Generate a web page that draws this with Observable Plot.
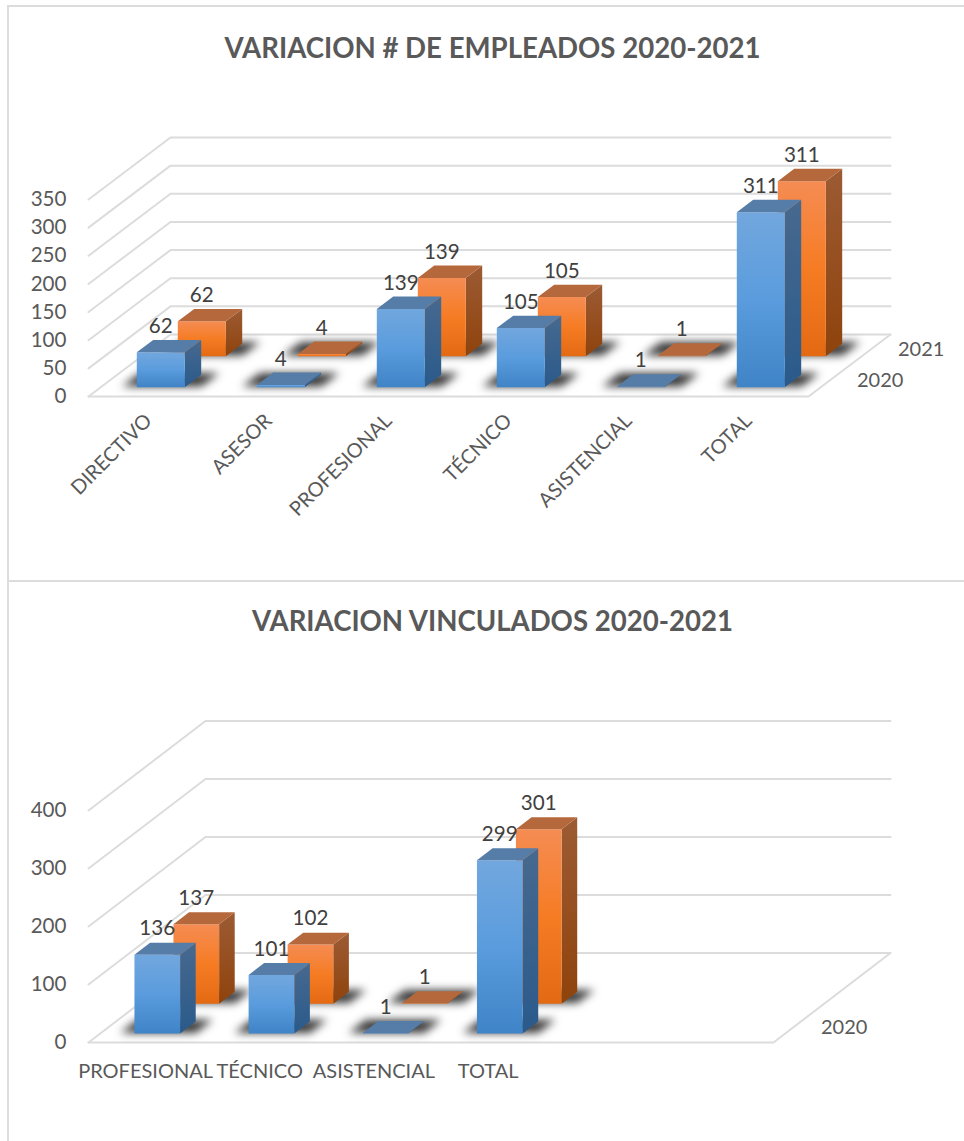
<!DOCTYPE html>
<html>
<head>
<meta charset="utf-8">
<script src="https://cdn.jsdelivr.net/npm/d3@7"></script>
<script src="https://cdn.jsdelivr.net/npm/@observablehq/plot@0.6"></script>
<style>
  html, body { margin: 0; padding: 0; background: #fff; }
  body { position: relative; width: 964px; height: 1141px; overflow: hidden; font-family: Lato, sans-serif; }
  #frame { position: absolute; left: 7px; top: 5px; right: 0; bottom: 0; border-left: 2px solid #dcdcdc; border-top: 2px solid #dcdcdc; }
  #divider { position: absolute; left: 7px; right: 0; top: 580px; height: 2px; background: #dcdcdc; }
  .title { position: absolute; left: 0; width: 985px; text-align: center; font-weight: 700; color: #595959; white-space: nowrap; }
  #title1 { top: 0; height: 96px; line-height: 96px; font-size: 27.6px; }
  #title2 { top: 582px; height: 78px; line-height: 78px; font-size: 27.6px; }
  #chart1, #chart2 { position: absolute; left: 0; }
  #chart1 { top: 95px; }
  #chart2 { top: 660px; }
  svg { display: block; overflow: visible; }
</style>
</head>
<body>
<svg width="0" height="0" style="position:absolute">
  <defs>
    <linearGradient id="frontBlue" x1="0" y1="0" x2="0" y2="1">
      <stop offset="0" stop-color="#72a7de"/><stop offset="0.5" stop-color="#5a9cdd"/><stop offset="1" stop-color="#3f84c7"/>
    </linearGradient>
    <linearGradient id="frontOrange" x1="0" y1="0" x2="0" y2="1">
      <stop offset="0" stop-color="#f58c53"/><stop offset="0.5" stop-color="#f67c24"/><stop offset="1" stop-color="#e36a13"/>
    </linearGradient>
    <linearGradient id="sideBlue" x1="0" y1="0" x2="0" y2="1">
      <stop offset="0" stop-color="#47698f"/><stop offset="1" stop-color="#2a5a8b"/>
    </linearGradient>
    <linearGradient id="sideOrange" x1="0" y1="0" x2="0" y2="1">
      <stop offset="0" stop-color="#9c5b34"/><stop offset="1" stop-color="#8f430c"/>
    </linearGradient>
  </defs>
</svg>
<div id="frame"></div>
<div id="divider"></div>
<div class="title" id="title1">VARIACION # DE EMPLEADOS 2020-2021</div>
<div id="chart1"></div>
<div class="title" id="title2">VARIACION VINCULADOS 2020-2021</div>
<div id="chart2"></div>
<script>
const categories1 = ["DIRECTIVO", "ASESOR", "PROFESIONAL", "TÉCNICO", "ASISTENCIAL", "TOTAL"];
const empleados2020 = [62, 4, 139, 105, 1, 311];
const empleados2021 = [62, 4, 139, 105, 1, 311];
const ticks1 = [0, 50, 100, 150, 200, 250, 300, 350];
const depthLabels1 = ["2020", "2021"];

const categories2 = ["PROFESIONAL", "TÉCNICO", "ASISTENCIAL", "TOTAL", "", ""];
const vinculados2020 = [136, 101, 1, 299];
const vinculados2021 = [137, 102, 1, 301];
const ticks2 = [0, 100, 200, 300, 400];
const depthLabels2 = ["2020"];

const blueSkin = {front: "url(#frontBlue)", side: "url(#sideBlue)", top: "#557da8"};
const orangeSkin = {front: "url(#frontOrange)", side: "url(#sideOrange)", top: "#b5683c"};

function chart3d({cats, series, ticks, yMax, depthSlots, depthLabels, kx, ky, rotate, height, marginTop, marginBottom, marginRight, labelDy, tickPadding}) {
  const nCat = cats.length;
  // oblique projection of (category position, depth position, value) into x/y scale units
  const P = (u, v, h) => ({x: u + v * kx, y: h + v * ky});
  const poly = (id, pts) => pts.map(([u, v, h]) => ({id, ...P(u, v, h)}));

  const grid = [];
  ticks.forEach((t) => grid.push(...poly("t" + t, [[0, 0, t], [0, depthSlots, t], [nCat, depthSlots, t]])));
  grid.push(...poly("floor", [[0, 0, 0], [nCat, 0, 0], [nCat, depthSlots, 0]]));

  const line = (rows, fill, extra = {}) => Plot.line(rows, {x: "x", y: "y", z: "id", fill, stroke: "none", ...extra});

  const barMarks = [];
  const labels = [];
  for (let s = series.length - 1; s >= 0; s--) {
    const {values, skin} = series[s];
    const v0 = s + 0.3, v1 = s + 0.7;
    const shadow = [], front = [], side = [], top = [];
    values.forEach((h, i) => {
      const u0 = i + 0.3, u1 = i + 0.7;
      shadow.push(...poly(`s${i}`, [[u0 - 0.13, v0 + 0.02, 0], [u1 + 0.13, v0 + 0.02, 0], [u1 + 0.13, v1 + 0.06, 0], [u0 - 0.13, v1 + 0.06, 0]]));
      front.push(...poly(`f${i}`, [[u0, v0, 0], [u1, v0, 0], [u1, v0, h], [u0, v0, h]]));
      side.push(...poly(`d${i}`, [[u1, v0, 0], [u1, v1, 0], [u1, v1, h], [u1, v0, h]]));
      top.push(...poly(`p${i}`, [[u0, v0, h], [u1, v0, h], [u1, v1, h], [u0, v1, h]]));
      labels.push({...P(i + 0.5, v0, h), text: String(h)});
    });
    barMarks.push(
      line(shadow, "#1e1e1e", {imageFilter: "blur(4px)", fillOpacity: 0.88}),
      line(side, skin.side),
      line(front, skin.front),
      line(top, skin.top)
    );
  }

  const depthRows = depthLabels.map((text, s) => ({...P(nCat, s + 0.5, 0), text}));
  const catTicks = cats.map((d, i) => i + 0.5).filter((d, i) => cats[i]);

  return Plot.plot({
    width: 964,
    height,
    marginLeft: 88,
    marginRight,
    marginTop,
    marginBottom,
    style: {fontFamily: "Lato, sans-serif", fontSize: "20px", background: "transparent", overflow: "visible"},
    x: {domain: [0, nCat]},
    y: {domain: [0, yMax]},
    marks: [
      Plot.line(grid, {x: "x", y: "y", z: "id", stroke: "#dcdcdc", strokeWidth: 2}),
      Plot.axisY(ticks, {anchor: "left", tickSize: 0, tickPadding, fill: "#595959", label: null, fontSize: 20.6, tickFormat: (d) => String(d)}),
      Plot.axisX(catTicks, rotate
        ? {anchor: "bottom", tickSize: 0, tickRotate: -45, tickPadding: 21, fill: "#595959", label: null, fontSize: 20, tickFormat: (d) => cats[d - 0.5]}
        : {anchor: "bottom", tickSize: 0, tickPadding: 21, fill: "#595959", label: null, fontSize: 20, tickFormat: (d) => cats[d - 0.5]}),
      ...barMarks,
      Plot.text(labels, {x: "x", y: "y", text: "text", dy: labelDy, fontSize: 20.6, fill: "#404040", textAnchor: "middle"}),
      Plot.text(depthRows, {x: "x", y: "y", text: "text", dx: 28, fill: "#595959", textAnchor: "start"})
    ]
  });
}

document.getElementById("chart1").append(chart3d({
  cats: categories1,
  series: [{values: empleados2020, skin: blueSkin}, {values: empleados2021, skin: orangeSkin}],
  ticks: ticks1, yMax: 350, depthSlots: 2, depthLabels: depthLabels1,
  kx: 41 / 120, ky: 31 / 0.563, rotate: true,
  height: 486, marginTop: 104, marginBottom: 185, marginRight: 156, labelDy: -26, tickPadding: 22
}));

document.getElementById("chart2").append(chart3d({
  cats: categories2,
  series: [{values: vinculados2020, skin: blueSkin}, {values: vinculados2021, skin: orangeSkin}],
  ticks: ticks2, yMax: 400, depthSlots: 3, depthLabels: depthLabels2,
  kx: 39 / 114.17, ky: 29.83 / 0.58, rotate: false,
  height: 481, marginTop: 150, marginBottom: 99, marginRight: 191, labelDy: -26, tickPadding: 22
}));
</script>
</body>
</html>
